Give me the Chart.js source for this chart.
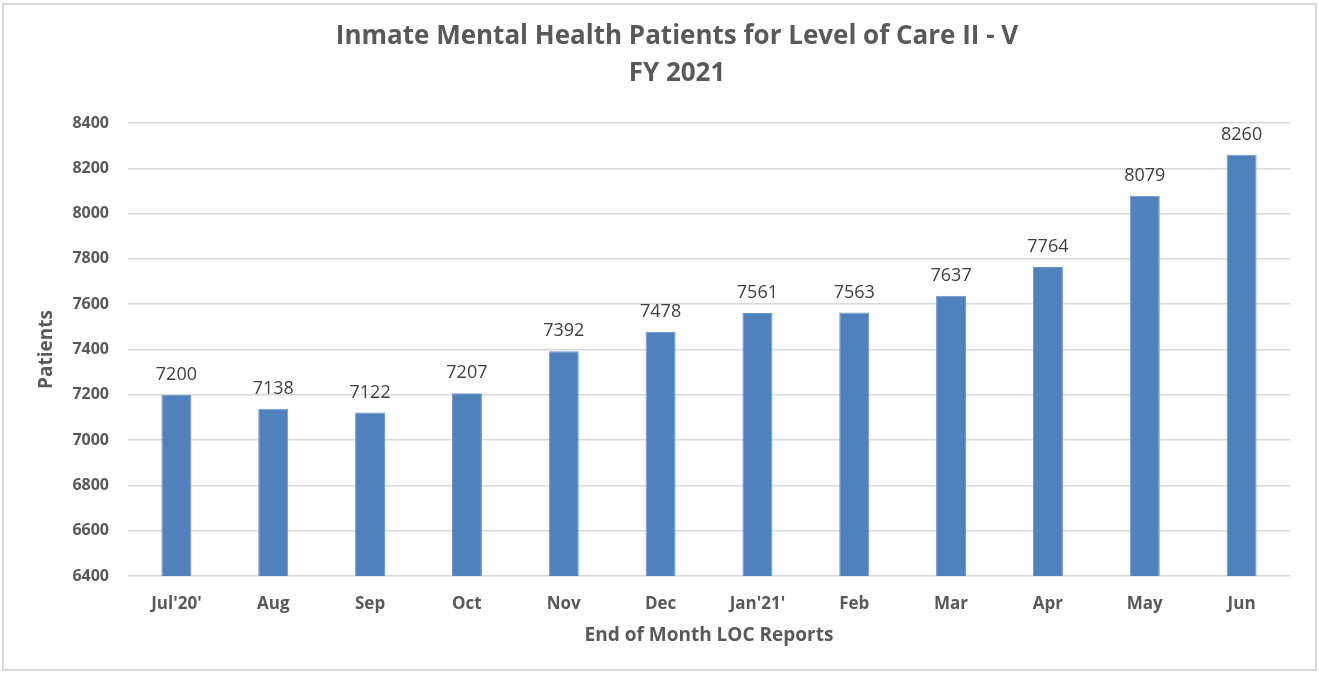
<!DOCTYPE html>
<html>
<head>
<meta charset="utf-8">
<script src="https://cdn.jsdelivr.net/npm/chart.js@4"></script>
<style>
  html, body { margin: 0; padding: 0; background: #fff; }
  #wrap { position: relative; width: 1319px; height: 673px; }
  #frame { position: absolute; left: 2px; top: 3px; width: 1311px; height: 664px; border: 2px solid #d9d9d9; pointer-events: none; }
  canvas { position: absolute; left: 0; top: 0; }
</style>
</head>
<body>
<div id="wrap">
  <canvas id="chart" width="1319" height="673"></canvas>
  <div id="frame"></div>
</div>
<script>
// data
const months = ["Jul'20'", 'Aug', 'Sep', 'Oct', 'Nov', 'Dec', "Jan'21'", 'Feb', 'Mar', 'Apr', 'May', 'Jun'];
const patients = [7200, 7138, 7122, 7207, 7392, 7478, 7561, 7563, 7637, 7764, 8079, 8260];
const titleLines = ['Inmate Mental Health Patients for Level of Care II - V', 'FY 2021'];

const FONT = "'Open Sans', 'Noto Sans', sans-serif";
const GREY = '#595959';

// title drawn by hand so it can sit where Excel put it
const titlePlugin = {
    id: 'twoLineTitle',
    afterDraw(chart) {
        const ctx = chart.ctx;
        ctx.save();
        ctx.fillStyle = GREY;
        ctx.font = 'bold 26px ' + FONT;
        ctx.textAlign = 'center';
        ctx.textBaseline = 'middle';
        ctx.fillText(titleLines[0], 677, 37);
        ctx.fillText(titleLines[1], 677, 74);
        ctx.restore();
    }
};

// value labels above each bar
const valueLabels = {
    id: 'valueLabels',
    afterDatasetsDraw(chart) {
        const ctx = chart.ctx;
        const meta = chart.getDatasetMeta(0);
        ctx.save();
        ctx.fillStyle = '#404040';
        ctx.font = '18px ' + FONT;
        ctx.textAlign = 'center';
        ctx.textBaseline = 'middle';
        meta.data.forEach((bar, i) => {
            ctx.fillText(patients[i], bar.x, bar.y - 20);
        });
        ctx.restore();
    }
};

new Chart(document.getElementById('chart'), {
    type: 'bar',
    data: {
        labels: months,
        datasets: [{
            label: 'Patients',
            data: patients,
            backgroundColor: '#4f81bd',
            borderColor: '#6a95cc',
            borderWidth: 1,
            barPercentage: 0.31,
            categoryPercentage: 1
        }]
    },
    options: {
        responsive: false,
        animation: false,
        layout: { padding: { left: 35, right: 29, top: 123, bottom: 26 } },
        plugins: {
            legend: { display: false },
            title: { display: false },
            tooltip: { enabled: false }
        },
        scales: {
            x: {
                grid: { display: false },
                border: { display: false },
                ticks: { color: GREY, font: { family: FONT, size: 17, weight: 'bold' }, padding: 10, maxRotation: 0 },
                title: { display: true, text: 'End of Month LOC Reports', color: GREY, font: { family: FONT, size: 19, weight: 'bold' }, padding: { top: 14, bottom: 0 } },
                afterFit(scale) { scale.height = 71; }
            },
            y: {
                min: 6400,
                max: 8400,
                ticks: { stepSize: 200, color: GREY, font: { family: FONT, size: 16, weight: 'bold' }, padding: 19, callback: v => String(v) },
                grid: { color: '#d9d9d9', lineWidth: 1.5, drawTicks: false },
                border: { display: false },
                title: { display: true, text: 'Patients', color: GREY, font: { family: FONT, size: 19, weight: 'bold' }, padding: 0 },
                afterFit(scale) { scale.width = 93; }
            }
        }
    },
    plugins: [titlePlugin, valueLabels]
});
</script>
</body>
</html>
